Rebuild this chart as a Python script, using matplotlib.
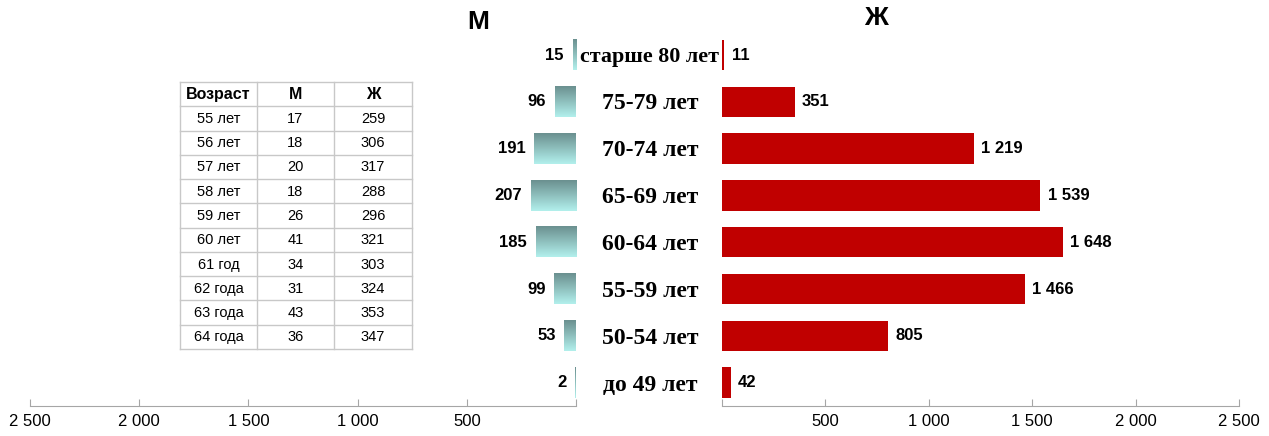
import numpy as np
import matplotlib.pyplot as plt
from matplotlib.ticker import FuncFormatter
from matplotlib.colors import LinearSegmentedColormap

groups = ['до 49 лет', '50-54 лет', '55-59 лет', '60-64 лет',
          '65-69 лет', '70-74 лет', '75-79 лет', 'старше 80 лет']
men = [2, 53, 99, 185, 207, 191, 96, 15]
women = [42, 805, 1466, 1648, 1539, 1219, 351, 11]

tab_age = ['55 лет', '56 лет', '57 лет', '58 лет', '59 лет',
           '60 лет', '61 год', '62 года', '63 года', '64 года']
tab_m = [17, 18, 20, 18, 26, 41, 34, 31, 43, 36]
tab_w = [259, 306, 317, 288, 296, 321, 303, 324, 353, 347]

plt.rcParams['font.family'] = ['Liberation Sans', 'DejaVu Sans']

W, H = 1269, 436
fig = plt.figure(figsize=(W / 100, H / 100), dpi=100)

def fx(px):
    return px / W

bot = (H - 406) / H
hgt = (406 - 31.6) / H
axL = fig.add_axes([fx(30), bot, fx(576 - 30), hgt])
axR = fig.add_axes([fx(722), bot, fx(1239 - 722), hgt])

fmt = FuncFormatter(lambda v, p: '' if v == 0 else f'{int(v):,}'.replace(',', ' '))
ticks = [0, 500, 1000, 1500, 2000, 2500]
y = np.arange(len(groups))
bh = 0.65

grad = np.linspace(0, 1, 100).reshape(-1, 1)
cm = LinearSegmentedColormap.from_list('t', ['#b2f0ec', '#6b9090'])

for ax in (axL, axR):
    ax.set_ylim(-0.5, len(groups) - 0.5)
    for s in ('top', 'left', 'right'):
        ax.spines[s].set_visible(False)
    ax.spines['bottom'].set_color('#a6a6a6')
    ax.set_yticks([])
    ax.set_xticks(ticks)
    ax.xaxis.set_major_formatter(fmt)
    ax.tick_params(axis='x', direction='in', length=5, color='#a6a6a6',
                   labelsize=12, pad=6)

for i, v in enumerate(men):
    w = max(v, 4)
    axL.imshow(grad, extent=(0, w, i - bh / 2, i + bh / 2), cmap=cm,
               aspect='auto', origin='lower', zorder=2)
    axL.text(v + 40, i, str(v), ha='right', va='center', fontsize=12,
             fontweight='bold')
axL.set_xlim(2500, 0)
axL.set_ylim(-0.5, len(groups) - 0.5)

axR.barh(y, women, height=bh, color='#c00000', zorder=2)
for i, v in enumerate(women):
    axR.text(max(v, 14) + 35, i, f'{v:,}'.replace(',', ' '), ha='left',
             va='center', fontsize=12, fontweight='bold')
axR.set_xlim(0, 2500)

for i, g in enumerate(groups):
    fs = 15.8 if len(g) > 10 else 17
    fig.text(fx(650), (H - (385 - 46.86 * i)) / H, g, ha='center', va='center',
             fontsize=fs, fontweight='bold', family='Liberation Serif')

fig.text(fx(478), (H - 22) / H, 'М', ha='center', va='center', fontsize=19,
         fontweight='bold')
fig.text(fx(876), (H - 18) / H, 'Ж', ha='center', va='center', fontsize=19,
         fontweight='bold')

# table
tx0, tx1, ty0, ty1 = 180, 412, 82, 349
cols = [180, 257, 334, 412]
nrow = len(tab_age) + 1
rh = (ty1 - ty0) / nrow
tab = fig.add_axes([0, 0, 1, 1])
tab.set_xlim(0, W)
tab.set_ylim(H, 0)
tab.axis('off')
for r in range(nrow + 1):
    tab.plot([tx0, tx1], [ty0 + r * rh] * 2, color='#c8c8c8', lw=1)
for c in cols:
    tab.plot([c, c], [ty0, ty1], color='#c8c8c8', lw=1)
header = ['Возраст', 'М', 'Ж']
rows = [header] + [[a, str(m), str(w)] for a, m, w in zip(tab_age, tab_m, tab_w)]
for r, row in enumerate(rows):
    for c, val in enumerate(row):
        tab.text((cols[c] + cols[c + 1]) / 2, ty0 + (r + 0.5) * rh + 0.5, val,
                 ha='center', va='center', fontsize=11.5 if r == 0 else 10.5,
                 fontweight='bold' if r == 0 else 'normal')

fig.savefig('out.png', dpi=100)
